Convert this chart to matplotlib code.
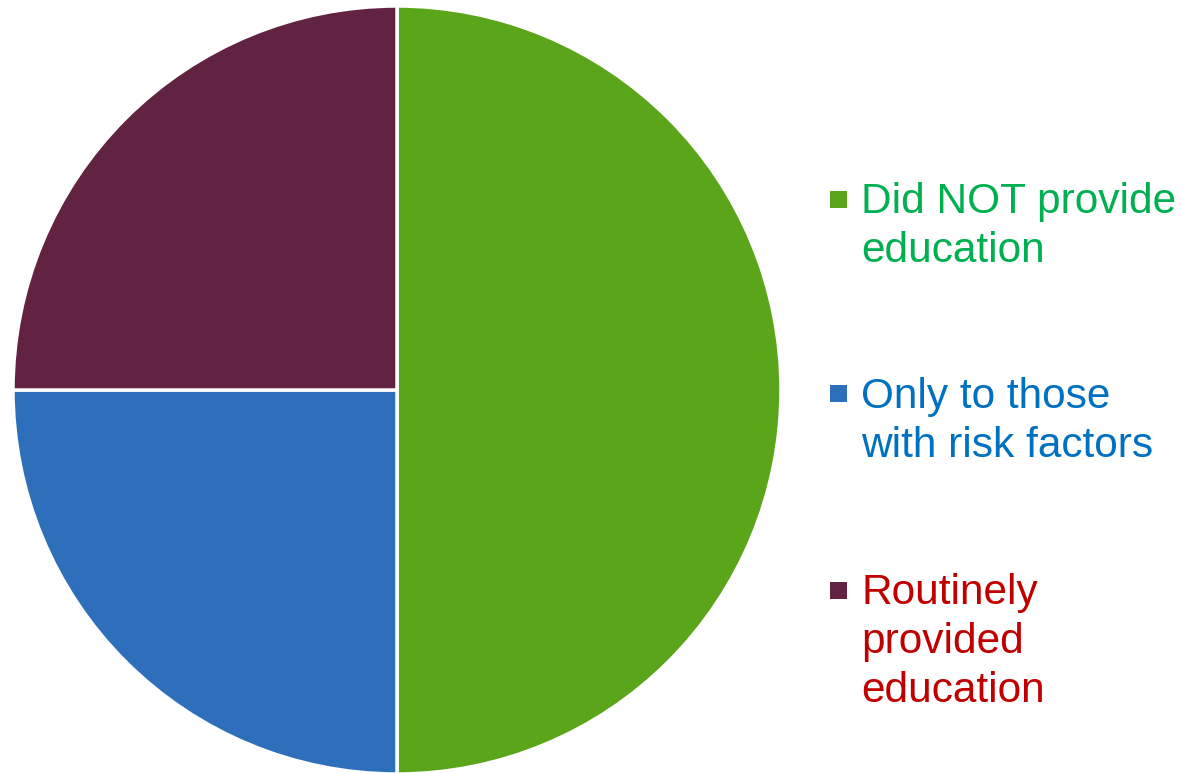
import matplotlib
matplotlib.use("Agg")
import matplotlib.pyplot as plt
from matplotlib.patches import Rectangle

categories = ["Did NOT provide\neducation", "Only to those\nwith risk factors", "Routinely\nprovided\neducation"]
values = [50, 25, 25]
slice_colors = ["#5AA519", "#2E6FBB", "#612341"]
text_colors = ["#00B050", "#0070C0", "#C00000"]

W, H = 1183, 773
fig = plt.figure(figsize=(W / 100, H / 100), dpi=100)
plt.rcParams['font.family'] = ['Liberation Sans', 'DejaVu Sans']

cx, cy, r = 397, 390, 384
ax = fig.add_axes([(cx - r) / W, (H - cy - r) / H, 2 * r / W, 2 * r / H])
ax.pie(values, colors=slice_colors, startangle=90, counterclock=False, radius=1,
       wedgeprops=dict(edgecolor="white", linewidth=2.5))
ax.set_xlim(-1, 1)
ax.set_ylim(-1, 1)
ax.set_aspect("equal")
ax.axis("off")

first_baselines = [213, 408, 604]
line_step = 49
square_tops = [191, 385, 582]
for label, sc, tc, b0, st in zip(categories, slice_colors, text_colors, first_baselines, square_tops):
    fig.add_artist(Rectangle((830 / W, (H - st - 17) / H), 17 / W, 17 / H,
                             transform=fig.transFigure, facecolor=sc, edgecolor="none"))
    for i, line in enumerate(label.split("\n")):
        fig.text(861 / W, (H - (b0 + i * line_step)) / H, line, color=tc,
                 fontsize=30.5, ha="left", va="baseline")

fig.savefig("out.png", dpi=100, facecolor="white")
